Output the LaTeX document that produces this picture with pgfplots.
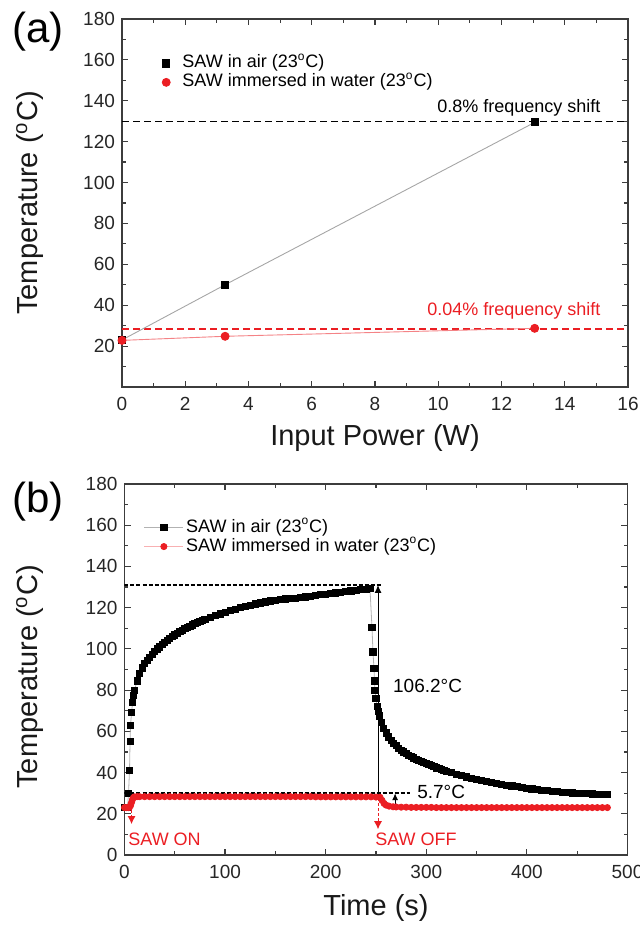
\documentclass[border=0pt]{standalone}
\usepackage{fontspec}
\setmainfont{Liberation Sans}
\usepackage{pgfplots}
\pgfplotsset{compat=1.18}
\usetikzlibrary{arrows.meta}
\definecolor{myred}{RGB}{235,30,35}
\definecolor{axcol}{RGB}{60,60,60}
\newcommand{\degs}{\textsuperscript{o}}
\pgfplotsset{
  base/.style={
    scale only axis,
    axis line style={axcol, line width=0.8pt},
    every tick/.style={axcol, line width=0.6pt},
    major tick length=3pt, minor tick length=1.8pt,
    tick align=inside,
    minor tick num=1,
    /pgf/number format/assume math mode=true,
    tick label style={font=\fontsize{9.5}{11}\selectfont, text=black!85},
    xticklabel style={yshift=-1.5pt},
    label style={font=\fontsize{14.5}{16}\selectfont, text=black!90},
    ymin=0, ymax=180, ytick={0,20,...,180},
    legend cell align=left,
  }
}
\begin{document}
\begin{tikzpicture}
% ---------------- (a) ----------------
\begin{axis}[base,
  at={(61pt,269pt)}, anchor=south west,
  width=253pt, height=184pt,
  xmin=0, xmax=16, xtick={0,2,...,16},
  yticklabels={,20,40,60,80,100,120,140,160,180},
  xlabel={Input Power (W)}, ylabel={Temperature (\degs C)},
  xlabel style={at={(axis description cs:0.5,-0.139)}, anchor=center},
  ylabel style={at={(axis description cs:-0.182,0.5)}, anchor=center},
  legend style={draw=none, fill=none, at={(axis cs:1.07,165.1)}, anchor=north west,
    font=\fontsize{9}{10}\selectfont, row sep=0pt, column sep=3.5pt,
    nodes={inner ysep=0.5pt, inner xsep=2.6pt, text height=6.5pt, text depth=2pt}},
  legend image code/.code={\draw[#1] plot coordinates {(0pt,0pt)};},
]
\addplot[black, dashed, dash pattern=on 3.5pt off 2pt, line width=0.7pt, forget plot] coordinates {(0,130) (16,130)};
\addplot[myred, dashed, dash pattern=on 3.5pt off 2pt, line width=0.7pt, forget plot] coordinates {(0,28.3) (16,28.3)};
\addplot[gray!70, line width=0.45pt, mark=square*, mark size=1.8pt, mark options={black, solid}, forget plot] coordinates {(0,23) (3.26,50) (13.07,129.6)};
\addplot[myred!55, line width=0.45pt, mark=*, mark size=2pt, mark options={myred, solid}, forget plot] coordinates {(0,22.8) (3.26,24.8) (13.05,28.7)};
\addlegendimage{only marks, mark=square*, mark size=1.8pt, black}
\addlegendentry{SAW in air (23\degs C)}
\addlegendimage{only marks, mark=*, mark size=2pt, myred}
\addlegendentry{SAW immersed in water (23\degs C)}
\node[anchor=east, font=\fontsize{9}{10}\selectfont] at (axis cs:15.35,136.5) {0.8\% frequency shift};
\node[anchor=east, font=\fontsize{9}{10}\selectfont, text=myred] at (axis cs:15.35,37.3) {0.04\% frequency shift};
\end{axis}
% ---------------- (b) ----------------
\begin{axis}[base,
  at={(62.25pt,35pt)}, anchor=south west,
  width=251.5pt, height=185.5pt,
  xmin=0, xmax=500, xtick={0,100,...,500},
  xlabel={Time (s)}, ylabel={Temperature (\degs C)},
  xlabel style={at={(axis description cs:0.5,-0.143)}, anchor=center},
  ylabel style={at={(axis description cs:-0.188,0.48)}, anchor=center},
  legend style={draw=none, fill=none, at={(axis cs:13,165.6)}, anchor=north west,
    font=\fontsize{9}{10}\selectfont, row sep=0pt,
    nodes={inner ysep=0.5pt, inner xsep=1.2pt, text height=6.5pt, text depth=2pt}},
  legend image code/.code={\draw[mark repeat=2, mark phase=2, #1] plot coordinates {(0pt,0pt) (9.75pt,0pt) (19.5pt,0pt)};},
]
% annotations
\draw[black, dash pattern=on 2pt off 1pt, line width=0.7pt] (axis cs:0,131) -- (axis cs:256,131);
\draw[black, dash pattern=on 2pt off 1pt, line width=0.7pt] (axis cs:0,30) -- (axis cs:284,30);
% data
\addplot[gray!60, line width=0.4pt, mark=square*, mark size=1.55pt, mark options={black, solid}] coordinates {
(0,23) (1,23) (2,23) (3,23) (4,30) (5,41) (5.5,55) (6,63) (7,69) (8,74) (9,77.5) (10,80)
(12.5,84.5) (15,88) (17.5,90.8) (20,93) (22.5,94.6) (25,96) (27.5,97.5) (30,98.8) (32.5,100) (35,101)
(37.5,102) (40,103) (42.5,104) (45,105) (47.5,105.9) (50,106.8) (52.5,107.6) (55,108.4) (57.5,109.1)
(60,109.8) (62.5,110.4) (65,111) (67.5,111.6) (70,112.2) (72.5,112.8) (75,113.3) (77.5,113.8)
(80,114.3) (85,115.2) (90,116.1) (95,117) (100,117.8) (105,118.6) (110,119.3)
(115,120) (120,120.6) (125,121.2) (130,121.8) (135,122.3) (140,122.8) (145,123.3) (150,123.7)
(155,124.1) (160,124.3) (165,124.4) (170,124.5) (175,124.8) (180,125.2) (185,125.6) (190,126)
(195,126.3) (200,126.6) (205,126.9) (210,127.2) (215,127.5) (220,127.8) (225,128.1) (230,128.4)
(235,128.7) (240,129) (244,129.3) (246,110.5) (247,98.5) (248,90.5) (248.5,84.5) (249,80)
(250,76) (251,72) (252,69.5) (253,67.5) (255,64.5) (257.5,61.5) (260,59.2) (262.5,57.3) (265,55.6)
(267.5,54.2) (270,53) (272.5,51.9) (275,50.9) (277.5,50) (280,49.2) (282.5,48.5) (285,47.8)
(287.5,47.1) (290,46.5) (292.5,45.9) (295,45.3) (297.5,44.8) (300,44.3) (302.5,43.8) (305,43.3)
(307.5,42.8) (310,42.3) (312.5,41.9) (315,41.5) (317.5,41.1) (320,40.7) (325,39.9) (330,39.2)
(335,38.5) (340,37.9) (345,37.3) (350,36.7) (355,36.2) (360,35.7) (365,35.2) (370,34.7) (375,34.3)
(380,33.9) (385,33.5) (390,33.1) (395,32.7) (400,32.4) (405,32.1) (410,31.8) (415,31.5) (420,31.2)
(425,31) (430,30.7) (435,30.5) (440,30.3) (445,30.1) (450,29.9) (455,29.8) (460,29.7) (465,29.6)
(470,29.5) (475,29.5) (480,29.4)};
\addlegendentry{SAW in air (23\degs C)}
\addplot[myred!35, line width=0.4pt, mark=*, mark size=1.55pt, mark options={myred, solid}] coordinates {
(0,23) (2,23) (4,23) (5,23.2) (6,24) (7,25.5) (8,27) (9,27.9) (10,28.2) (12.5,28.3)
(15,28.3) (20,28.3) (25,28.3) (30,28.3) (35,28.3) (40,28.3) (45,28.3) (50,28.3) (55,28.3) (60,28.3)
(65,28.3) (70,28.3) (75,28.3) (80,28.3) (85,28.3) (90,28.3) (95,28.3) (100,28.3) (105,28.3) (110,28.3)
(115,28.3) (120,28.3) (125,28.3) (130,28.3) (135,28.3) (140,28.3) (145,28.3) (150,28.3) (155,28.3)
(160,28.3) (165,28.3) (170,28.3) (175,28.3) (180,28.3) (185,28.3) (190,28.2) (195,28.2) (200,28.2)
(205,28.2) (210,28.2) (215,28.2) (220,28.2) (225,28.2) (230,28.2) (235,28.2) (240,28.2) (245,28.2)
(250,28.1) (254,28) (256,26.5) (258,25) (260,24.2) (263,23.7) (267,23.4) (270,23.3) (275,23.2)
(280,23.2) (285,23.1) (290,23.1) (295,23.1) (300,23.1) (305,23.1) (310,23) (315,23) (320,23) (325,23)
(330,23) (335,23) (340,23) (345,23) (350,23) (355,23) (360,23) (365,23) (370,23) (375,23) (380,23)
(385,23) (390,23) (395,23) (400,23) (405,23) (410,23) (415,23) (420,23) (425,23) (430,23) (435,23)
(440,23) (445,23) (450,23) (455,23) (460,23) (465,23) (470,23) (475,23) (480,23)};
\addlegendentry{SAW immersed in water (23\degs C)}
% arrows and labels
\draw[-{Latex[length=4pt,width=3.5pt]}, black, line width=0.5pt] (axis cs:252,28) -- (axis cs:252,131);
\node[anchor=west, font=\fontsize{9.5}{11}\selectfont] at (axis cs:260,82) {106.2°C};
\draw[-{Latex[length=3.5pt,width=3pt]}, black, line width=0.5pt] (axis cs:269,23.5) -- (axis cs:269,30);
\node[anchor=west, font=\fontsize{9.5}{11}\selectfont] at (axis cs:284,30.5) {5.7°C};
\draw[-{Latex[length=4pt,width=4pt]}, myred, dash pattern=on 1.5pt off 1pt, line width=0.5pt] (axis cs:7,22) -- (axis cs:7,15);
\draw[-{Latex[length=4pt,width=4pt]}, myred, dash pattern=on 1.5pt off 1pt, line width=0.5pt] (axis cs:252,27.5) -- (axis cs:252,12.5);
\node[anchor=west, font=\fontsize{9}{10}\selectfont, text=myred, inner sep=0pt] at (axis cs:3.5,7.7) {SAW ON};
\node[anchor=west, font=\fontsize{9}{10}\selectfont, text=myred, inner sep=0pt] at (axis cs:249,7.7) {SAW OFF};
\end{axis}
\node[font=\fontsize{21}{24}\selectfont] at (19pt,446.5pt) {(a)};
\node[font=\fontsize{21}{24}\selectfont] at (19pt,211.5pt) {(b)};
\pgfresetboundingbox
\path[use as bounding box] (0,0) rectangle (319.5pt,462.5pt);
\end{tikzpicture}
\end{document}
